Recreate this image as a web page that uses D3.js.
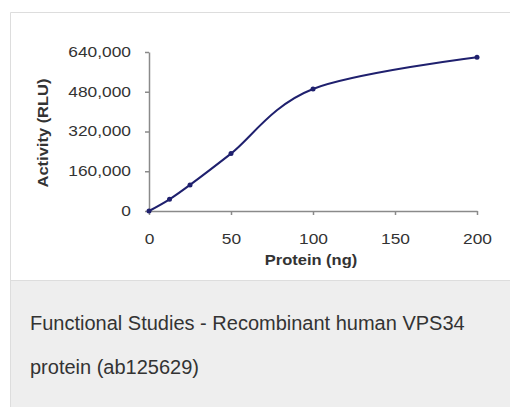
<!DOCTYPE html>
<html>
<head>
<meta charset="utf-8">
<script src="https://cdn.jsdelivr.net/npm/d3@7"></script>
<style>
  body { margin: 0; background: #fff; font-family: "Liberation Sans", Arial, sans-serif; }
</style>
</head>
<body>
<script>
// datos
const protein = [0, 12.5, 25, 50, 100, 200]
const activity = [0, 47000, 105000, 231000, 491000, 619000]
const xTicks = [0, 50, 100, 150, 200]
const yTicks = [0, 160000, 320000, 480000, 640000]
const captionLines = ["Functional Studies - Recombinant human VPS34", "protein (ab125629)"]

const svg = d3.select("body")
  .append("svg")
  .attr("width", 510)
  .attr("height", 407)
  .style("display", "block")

// marco del grafico y area de la leyenda
svg.append("rect").attr("x", 10).attr("y", 280).attr("width", 500).attr("height", 127).attr("fill", "#eeeeee")
svg.append("path")
  .attr("d", "M10.5,407V12.5H510M10,280.5H510")
  .attr("fill", "none")
  .attr("stroke", "#dddddd")

captionLines.forEach((t, i) => {
  svg.append("text")
    .attr("x", 30)
    .attr("y", 329.5 + i * 44.5)
    .attr("fill", "#333")
    .style("font-size", "20px")
    .text(t)
})

// escaladores
const x = d3.scaleLinear().domain([0, 200]).range([149, 477])
const y = d3.scaleLinear().domain([0, 640000]).range([211, 52])

const fmt = d3.format(",")
const stretch = 1.24

// eje Y
const yAxis = svg.append("g")
  .attr("transform", "translate(149,0)")
  .call(d3.axisLeft(y).tickValues(yTicks).tickFormat(fmt).tickSize(4).tickSizeOuter(0).tickPadding(14))
// eje X
const xAxis = svg.append("g")
  .attr("transform", "translate(0,211)")
  .call(d3.axisBottom(x).tickValues(xTicks).tickSize(4).tickSizeOuter(0).tickPadding(19))

svg.selectAll(".domain, .tick line").attr("stroke", "#8a8a8a").attr("stroke-width", 1.5)
svg.selectAll(".tick text")
  .attr("fill", "#333")
  .style("font-family", "Liberation Sans, Arial, sans-serif")
  .style("font-size", "14px")
  .attr("x", function () { return +d3.select(this).attr("x") / stretch })
  .attr("transform", `scale(${stretch},1)`)

// titulos
svg.append("text")
  .attr("transform", "translate(311,265) scale(1.1,1)")
  .attr("text-anchor", "middle")
  .attr("fill", "#333")
  .style("font-weight", "bold")
  .style("font-size", "15px")
  .text("Protein (ng)")

svg.append("text")
  .attr("transform", "translate(48,133) rotate(-90) scale(1.1,1)")
  .attr("text-anchor", "middle")
  .attr("fill", "#333")
  .style("font-weight", "bold")
  .style("font-size", "15px")
  .text("Activity (RLU)")

// curva
const data = protein.map((p, i) => ({ p: p, a: activity[i] }))
const line = d3.line()
  .x(d => x(d.p))
  .y(d => y(d.a))
  .curve(d3.curveCardinal.tension(0))

svg.append("path")
  .datum(data)
  .attr("d", line)
  .attr("fill", "none")
  .attr("stroke", "#1f206e")
  .attr("stroke-width", 2)

svg.selectAll("circle")
  .data(data)
  .enter()
  .append("circle")
  .attr("cx", d => x(d.p))
  .attr("cy", d => y(d.a))
  .attr("r", 2.5)
  .attr("fill", "#1f206e")
</script>
</body>
</html>
